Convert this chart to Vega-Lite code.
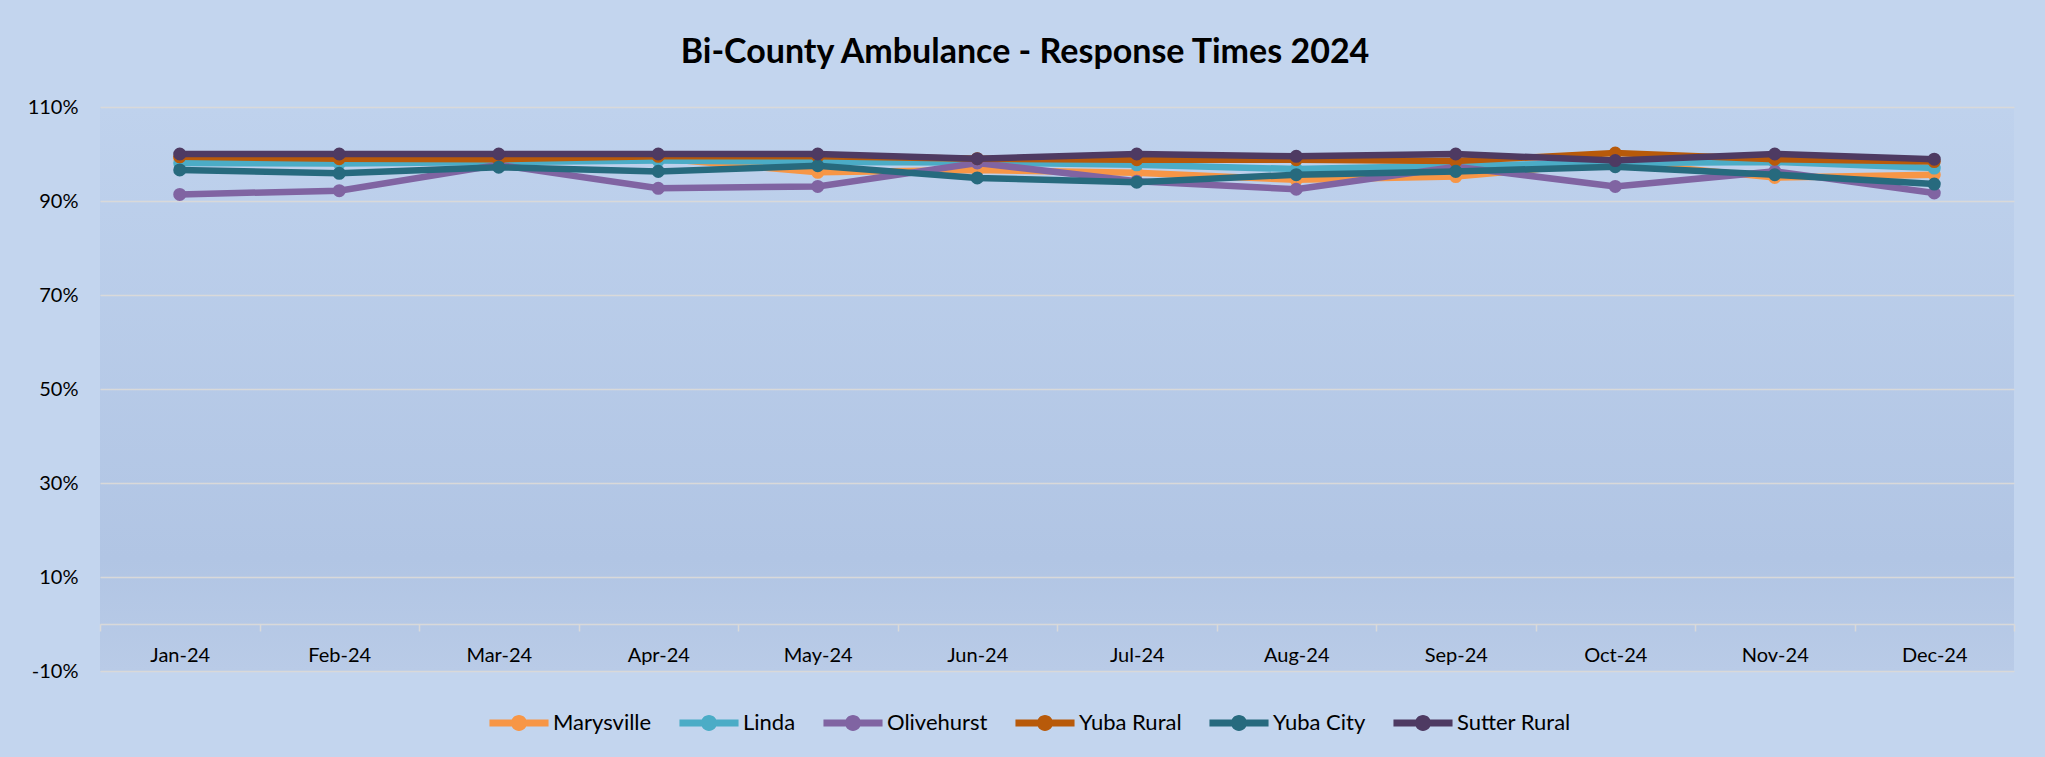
{
  "$schema": "https://vega.github.io/schema/vega-lite/v6.json",
  "width": 1914,
  "height": 564,
  "autosize": {"type": "none"},
  "padding": {"left": 100, "top": 107, "right": 31, "bottom": 86},
  "background": "#c3d5ee",
  "title": {
    "text": "Bi-County Ambulance - Response Times 2024",
    "font": "Lato",
    "fontSize": 34,
    "fontWeight": "bold",
    "color": "#000000",
    "anchor": "middle",
    "offset": 27,
    "dx": -32
  },
  "config": {
    "view": {
      "stroke": null,
      "fill": {
        "gradient": "linear", "x1": 0, "y1": 0, "x2": 0, "y2": 1,
        "stops": [
          {"offset": 0, "color": "#bfd2ed"},
          {"offset": 0.8, "color": "#b1c5e4"},
          {"offset": 1, "color": "#b9cbe7"}
        ]
      }
    },
    "font": "Lato"
  },
  "data": {
    "values": [
      {"month": "Jan-24", "series": "Marysville", "value": 0.991},
      {"month": "Feb-24", "series": "Marysville", "value": 0.988},
      {"month": "Mar-24", "series": "Marysville", "value": 0.988},
      {"month": "Apr-24", "series": "Marysville", "value": 0.991},
      {"month": "May-24", "series": "Marysville", "value": 0.961},
      {"month": "Jun-24", "series": "Marysville", "value": 0.966},
      {"month": "Jul-24", "series": "Marysville", "value": 0.960},
      {"month": "Aug-24", "series": "Marysville", "value": 0.945},
      {"month": "Sep-24", "series": "Marysville", "value": 0.952},
      {"month": "Oct-24", "series": "Marysville", "value": 0.983},
      {"month": "Nov-24", "series": "Marysville", "value": 0.950},
      {"month": "Dec-24", "series": "Marysville", "value": 0.956},
      {"month": "Jan-24", "series": "Linda", "value": 0.981},
      {"month": "Feb-24", "series": "Linda", "value": 0.980},
      {"month": "Mar-24", "series": "Linda", "value": 0.983},
      {"month": "Apr-24", "series": "Linda", "value": 0.986},
      {"month": "May-24", "series": "Linda", "value": 0.983},
      {"month": "Jun-24", "series": "Linda", "value": 0.982},
      {"month": "Jul-24", "series": "Linda", "value": 0.977},
      {"month": "Aug-24", "series": "Linda", "value": 0.968},
      {"month": "Sep-24", "series": "Linda", "value": 0.975},
      {"month": "Oct-24", "series": "Linda", "value": 0.981},
      {"month": "Nov-24", "series": "Linda", "value": 0.983},
      {"month": "Dec-24", "series": "Linda", "value": 0.970},
      {"month": "Jan-24", "series": "Olivehurst", "value": 0.914},
      {"month": "Feb-24", "series": "Olivehurst", "value": 0.922},
      {"month": "Mar-24", "series": "Olivehurst", "value": 0.977},
      {"month": "Apr-24", "series": "Olivehurst", "value": 0.927},
      {"month": "May-24", "series": "Olivehurst", "value": 0.931},
      {"month": "Jun-24", "series": "Olivehurst", "value": 0.981},
      {"month": "Jul-24", "series": "Olivehurst", "value": 0.942},
      {"month": "Aug-24", "series": "Olivehurst", "value": 0.925},
      {"month": "Sep-24", "series": "Olivehurst", "value": 0.973},
      {"month": "Oct-24", "series": "Olivehurst", "value": 0.931},
      {"month": "Nov-24", "series": "Olivehurst", "value": 0.963},
      {"month": "Dec-24", "series": "Olivehurst", "value": 0.917},
      {"month": "Jan-24", "series": "Yuba Rural", "value": 0.994},
      {"month": "Feb-24", "series": "Yuba Rural", "value": 0.990},
      {"month": "Mar-24", "series": "Yuba Rural", "value": 0.989},
      {"month": "Apr-24", "series": "Yuba Rural", "value": 0.995},
      {"month": "May-24", "series": "Yuba Rural", "value": 0.995},
      {"month": "Jun-24", "series": "Yuba Rural", "value": 0.990},
      {"month": "Jul-24", "series": "Yuba Rural", "value": 0.988},
      {"month": "Aug-24", "series": "Yuba Rural", "value": 0.988},
      {"month": "Sep-24", "series": "Yuba Rural", "value": 0.985},
      {"month": "Oct-24", "series": "Yuba Rural", "value": 1.002},
      {"month": "Nov-24", "series": "Yuba Rural", "value": 0.989},
      {"month": "Dec-24", "series": "Yuba Rural", "value": 0.984},
      {"month": "Jan-24", "series": "Yuba City", "value": 0.966},
      {"month": "Feb-24", "series": "Yuba City", "value": 0.959},
      {"month": "Mar-24", "series": "Yuba City", "value": 0.972},
      {"month": "Apr-24", "series": "Yuba City", "value": 0.963},
      {"month": "May-24", "series": "Yuba City", "value": 0.975},
      {"month": "Jun-24", "series": "Yuba City", "value": 0.949},
      {"month": "Jul-24", "series": "Yuba City", "value": 0.940},
      {"month": "Aug-24", "series": "Yuba City", "value": 0.956},
      {"month": "Sep-24", "series": "Yuba City", "value": 0.963},
      {"month": "Oct-24", "series": "Yuba City", "value": 0.973},
      {"month": "Nov-24", "series": "Yuba City", "value": 0.956},
      {"month": "Dec-24", "series": "Yuba City", "value": 0.936},
      {"month": "Jan-24", "series": "Sutter Rural", "value": 1.000},
      {"month": "Feb-24", "series": "Sutter Rural", "value": 1.000},
      {"month": "Mar-24", "series": "Sutter Rural", "value": 1.000},
      {"month": "Apr-24", "series": "Sutter Rural", "value": 1.000},
      {"month": "May-24", "series": "Sutter Rural", "value": 1.000},
      {"month": "Jun-24", "series": "Sutter Rural", "value": 0.990},
      {"month": "Jul-24", "series": "Sutter Rural", "value": 1.000},
      {"month": "Aug-24", "series": "Sutter Rural", "value": 0.995},
      {"month": "Sep-24", "series": "Sutter Rural", "value": 1.000},
      {"month": "Oct-24", "series": "Sutter Rural", "value": 0.986},
      {"month": "Nov-24", "series": "Sutter Rural", "value": 1.000},
      {"month": "Dec-24", "series": "Sutter Rural", "value": 0.989}
    ]
  },
  "encoding": {
    "x": {
      "field": "month",
      "type": "nominal",
      "sort": ["Jan-24","Feb-24","Mar-24","Apr-24","May-24","Jun-24","Jul-24","Aug-24","Sep-24","Oct-24","Nov-24","Dec-24"],
      "scale": {"paddingInner": 0, "paddingOuter": 0},
      "axis": {
        "title": null,
        "labelAngle": 0,
        "labelFont": "Lato",
        "labelFontSize": 20,
        "labelColor": "#000000",
        "labelPadding": 14,
        "tickBand": "extent",
        "tickSize": 7,
        "tickColor": "#d9d9d9",
        "tickWidth": 1.5,
        "domainColor": "#d9d9d9",
        "domainWidth": 1.5,
        "grid": false,
        "offset": -47
      }
    },
    "y": {
      "field": "value",
      "type": "quantitative",
      "scale": {"domain": [-0.1, 1.1], "nice": false, "zero": false},
      "axis": {
        "title": null,
        "values": [-0.1, 0.1, 0.3, 0.5, 0.7, 0.9, 1.1],
        "labelExpr": "round(datum.value * 100) + '%'",
        "labelFont": "Lato",
        "labelFontSize": 20,
        "labelColor": "#000000",
        "labelPadding": 22,
        "ticks": false,
        "domain": false,
        "grid": true,
        "gridColor": "#d9d9d9",
        "gridWidth": 1.5
      }
    },
    "color": {
      "field": "series",
      "type": "nominal",
      "scale": {
        "domain": ["Marysville", "Linda", "Olivehurst", "Yuba Rural", "Yuba City", "Sutter Rural"],
        "range": ["#f79646", "#4bacc6", "#8064a2", "#b85a0a", "#276a7e", "#4e3a62"]
      },
      "legend": {
        "title": null,
        "orient": "none",
        "legendX": 389,
        "legendY": 586,
        "padding": 0,
        "direction": "horizontal",
        "labelFont": "Lato",
        "labelFontSize": 22,
        "labelColor": "#000000",
        "labelOffset": 4,
        "columnPadding": 27,
        "symbolType": "M-1,-0.116 L1,-0.116 L1,0.116 L-1,0.116 Z M0.27,0 A0.27,0.27 0 1,1 -0.27,0 A0.27,0.27 0 1,1 0.27,0 Z",
        "symbolSize": 3490,
        "symbolStrokeWidth": 0,
        "encode": {
          "symbols": {
            "update": {
              "fill": {"scale": "color", "field": "value"},
              "fillOpacity": {"value": 1},
              "strokeWidth": {"value": 0}
            }
          }
        }
      }
    }
  },
  "layer": [
    {"transform": [{"filter": {"field": "series", "equal": "Marysville"}}], "mark": {"type": "line", "strokeWidth": 6.5, "point": {"filled": true, "size": 170, "opacity": 1}}},
    {"transform": [{"filter": {"field": "series", "equal": "Linda"}}], "mark": {"type": "line", "strokeWidth": 6.5, "point": {"filled": true, "size": 170, "opacity": 1}}},
    {"transform": [{"filter": {"field": "series", "equal": "Olivehurst"}}], "mark": {"type": "line", "strokeWidth": 6.5, "point": {"filled": true, "size": 170, "opacity": 1}}},
    {"transform": [{"filter": {"field": "series", "equal": "Yuba Rural"}}], "mark": {"type": "line", "strokeWidth": 6.5, "point": {"filled": true, "size": 170, "opacity": 1}}},
    {"transform": [{"filter": {"field": "series", "equal": "Yuba City"}}], "mark": {"type": "line", "strokeWidth": 6.5, "point": {"filled": true, "size": 170, "opacity": 1}}},
    {"transform": [{"filter": {"field": "series", "equal": "Sutter Rural"}}], "mark": {"type": "line", "strokeWidth": 6.5, "point": {"filled": true, "size": 170, "opacity": 1}}}
  ]
}
